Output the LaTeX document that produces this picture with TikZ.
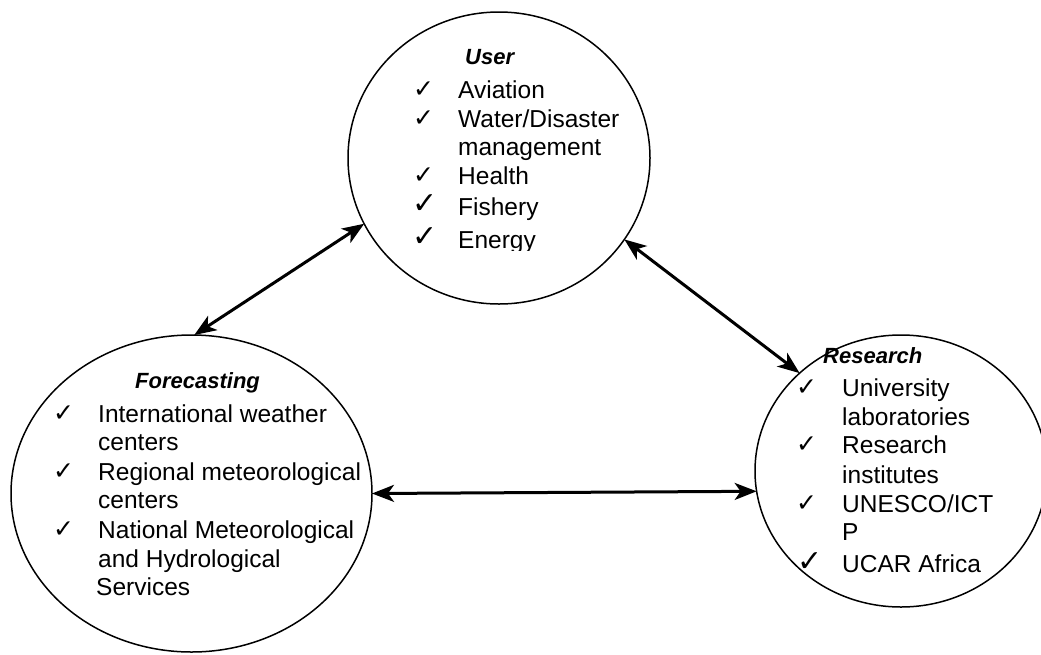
\documentclass[tikz,border=0pt]{standalone}
\usepackage{fontspec}
\setmainfont{Liberation Sans}
\newfontfamily\symfont{DejaVu Sans}
\usetikzlibrary{shapes.geometric,arrows.meta}
\tikzset{
  oval/.style={draw, ellipse, line width=1.5pt, inner sep=0pt, outer sep=0pt},
  link/.style={{Stealth[length=22pt,width=17pt,inset=6pt]}-{Stealth[length=22pt,width=17pt,inset=6pt]}, line width=3pt},
  item/.style={anchor=base west, inner sep=0pt, font=\fontsize{24.5}{29}\selectfont},
  ttl/.style={anchor=base west, inner sep=0pt, font=\fontsize{22}{26}\selectfont\bfseries\itshape},
  tick/.style={anchor=base west, inner sep=0pt, font=\symfont\fontsize{25}{28}\selectfont},
  bigtick/.style={anchor=base west, inner sep=0pt, font=\symfont\fontsize{30}{32}\selectfont}
}
\begin{document}
\begin{tikzpicture}[x=1pt,y=-1pt]
\useasboundingbox (0,0) rectangle (1041,654);
\fill[white] (0,0) rectangle (1041,654);
% ovals
\node[oval, minimum width=302pt, minimum height=292pt] (user) at (499,158) {};
\node[oval, minimum width=361pt, minimum height=317pt] (fore) at (191.5,493.5) {};
\node[oval, minimum width=292pt, minimum height=272pt] (res) at (901,471) {};
% connectors
\draw[link] (user.206) -- (fore.89);
\draw[link] (user.327) -- (res.136);
\draw[link] (fore.0) -- (res.188);
% User
\node[ttl] (ut) at (465,64) {User};
\node[tick] (uc1) at (413,97) {✓};
\node[item] (u1) at (458,98) {Aviation};
\node[tick] (uc2) at (413,126) {✓};
\node[item] (u2) at (458,127) {Water/Disaster};
\node[tick] (uc4) at (413,183) {✓};
\node[item] (u3) at (458,155) {management};
\node[item] (u4) at (458,184) {Health};
\node[bigtick] (uc5) at (412,213) {✓};
\node[item] (u5) at (458,215) {Fishery};
\node[bigtick] (uc6) at (412,246) {✓};
\begin{scope}
\clip (440,215) rectangle (640,250);
\node[item] (u6) at (458,248) {Energy};
\end{scope}
% Forecasting
\node[ttl] (ft) at (135,388) {Forecasting};
\node[tick] (fc1) at (53,421) {✓};
\node[item] (f1) at (98,422) {International weather};
\node[item] (f2) at (98,450) {centers};
\node[tick] (fc3) at (53,479) {✓};
\node[item] (f3) at (98,480) {Regional meteorological};
\node[item] (f4) at (98,508) {centers};
\node[tick] (fc5) at (53,537) {✓};
\node[item] (f5) at (98,538) {National Meteorological};
\node[item] (f6) at (98,567) {and Hydrological};
\node[item] (f7) at (96,595) {Services};
% Research
\node[ttl] (rt) at (823,363) {Research};
\node[tick] (rc1) at (796,395) {✓};
\node[item] (r1) at (842,396) {University};
\node[item] (r2) at (842,425) {laboratories};
\node[tick] (rc3) at (796,452) {✓};
\node[item] (r3) at (842,453) {Research};
\node[item] (r4) at (842,483) {institutes};
\node[tick] (rc5) at (796,511) {✓};
\node[item] (r5) at (842,512) {UNESCO/ICT};
\node[item] (r6) at (842,540) {P};
\node[bigtick] (rc7) at (797,571) {✓};
\node[item] (r7) at (842,572) {UCAR Africa};
\end{tikzpicture}
\end{document}
